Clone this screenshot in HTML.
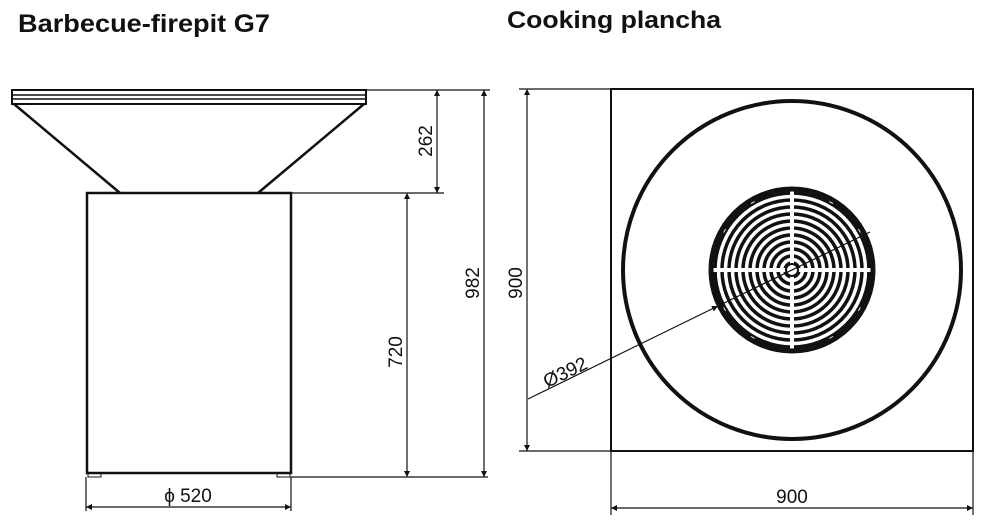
<!DOCTYPE html>
<html><head><meta charset="utf-8"><style>
html,body{margin:0;padding:0;background:#fff;}
svg{display:block;}
</style></head><body>
<svg width="983" height="527" viewBox="0 0 983 527" xmlns="http://www.w3.org/2000/svg" font-family="Liberation Sans, sans-serif">
<defs>
<marker id="a" viewBox="0 0 10 10" refX="10" refY="5" markerWidth="12" markerHeight="6" markerUnits="userSpaceOnUse" orient="auto-start-reverse"><path d="M0,0 L10,5 L0,10 z" fill="#111"/></marker>
<clipPath id="gc"><circle cx="792" cy="270" r="80"/></clipPath>
</defs>
<text x="18" y="32" font-size="25" font-weight="bold" textLength="252" lengthAdjust="spacingAndGlyphs" fill="#111">Barbecue-firepit G7</text>
<text x="507" y="28" font-size="24" font-weight="bold" textLength="214" lengthAdjust="spacingAndGlyphs" fill="#111">Cooking plancha</text>

<g stroke="#111" fill="none">
<rect x="12" y="90" width="354" height="14" stroke-width="2"/>
<line x1="12" y1="95" x2="366" y2="95" stroke-width="1.5"/>
<line x1="12" y1="99" x2="366" y2="99" stroke-width="1.5"/>
<line x1="14" y1="104" x2="120" y2="193" stroke-width="2.5"/>
<line x1="364" y1="104" x2="258" y2="193" stroke-width="2.5"/>
<rect x="87" y="193" width="204" height="280" stroke-width="2.5"/>
<rect x="88" y="473" width="13" height="4" stroke-width="1"/>
<rect x="277" y="473" width="13" height="4" stroke-width="1"/>
<g stroke-width="1.2">
<line x1="366" y1="90" x2="490" y2="90"/>
<line x1="291" y1="193" x2="444" y2="193"/>
<line x1="291" y1="477" x2="488" y2="477"/>
<line x1="86" y1="477" x2="86" y2="511"/>
<line x1="291" y1="477" x2="291" y2="511"/>
<line x1="437" y1="90" x2="437" y2="193" marker-start="url(#a)" marker-end="url(#a)"/>
<line x1="484" y1="90" x2="484" y2="477" marker-start="url(#a)" marker-end="url(#a)"/>
<line x1="407" y1="193" x2="407" y2="477" marker-start="url(#a)" marker-end="url(#a)"/>
<line x1="86" y1="507" x2="291" y2="507" marker-start="url(#a)" marker-end="url(#a)"/>
</g>
<rect x="611" y="89" width="362" height="362" stroke-width="2"/>
<circle cx="792" cy="270" r="169" stroke-width="4"/>
<g stroke-width="1.2">
<line x1="519" y1="89" x2="611" y2="89"/>
<line x1="519" y1="451" x2="611" y2="451"/>
<line x1="527" y1="89" x2="527" y2="451" marker-start="url(#a)" marker-end="url(#a)"/>
<line x1="611" y1="451" x2="611" y2="515"/>
<line x1="973" y1="451" x2="973" y2="515"/>
<line x1="611" y1="508" x2="973" y2="508" marker-start="url(#a)" marker-end="url(#a)"/>
</g>
</g>

<g clip-path="url(#gc)" fill="none" stroke="#111" stroke-width="3.5">
<circle cx="792" cy="270" r="7"/><circle cx="792" cy="270" r="14"/><circle cx="792" cy="270" r="21"/><circle cx="792" cy="270" r="28"/><circle cx="792" cy="270" r="35"/><circle cx="792" cy="270" r="42"/><circle cx="792" cy="270" r="49"/><circle cx="792" cy="270" r="56"/><circle cx="792" cy="270" r="63"/><circle cx="792" cy="270" r="70"/><circle cx="792" cy="270" r="77"/>
<g stroke="#fff" stroke-width="4">
<line x1="700" y1="270" x2="884" y2="270"/>
<line x1="792" y1="180" x2="792" y2="360"/>
<line x1="831" y1="337" x2="860" y2="388"/><line x1="753" y1="337" x2="724" y2="388"/>
<line x1="831" y1="203" x2="860" y2="152"/><line x1="753" y1="203" x2="724" y2="152"/>
<line x1="859" y1="231" x2="910" y2="202"/><line x1="725" y1="231" x2="674" y2="202"/>
<line x1="859" y1="309" x2="910" y2="338"/><line x1="725" y1="309" x2="674" y2="338"/>
</g>
</g>
<circle cx="792" cy="270" r="81" fill="none" stroke="#111" stroke-width="5"/>
<circle cx="792" cy="270" r="6" fill="#fff" stroke="#111" stroke-width="2"/>
<line x1="528" y1="399" x2="718" y2="306" stroke="#111" stroke-width="1.2" marker-end="url(#a)"/>
<line x1="718" y1="306" x2="870" y2="232" stroke="#111" stroke-width="1.2"/>

<g fill="#111" font-size="19">
<text x="188" y="502" text-anchor="middle">ϕ 520</text>
<text x="792" y="503" text-anchor="middle">900</text>
<text transform="translate(432,141) rotate(-90)" text-anchor="middle">262</text>
<text transform="translate(479,283) rotate(-90)" text-anchor="middle">982</text>
<text transform="translate(402,352) rotate(-90)" text-anchor="middle">720</text>
<text transform="translate(522,283) rotate(-90)" text-anchor="middle">900</text>
<text transform="translate(568,378) rotate(-26)" text-anchor="middle">Ø392</text>
</g>
</svg>
</body></html>
